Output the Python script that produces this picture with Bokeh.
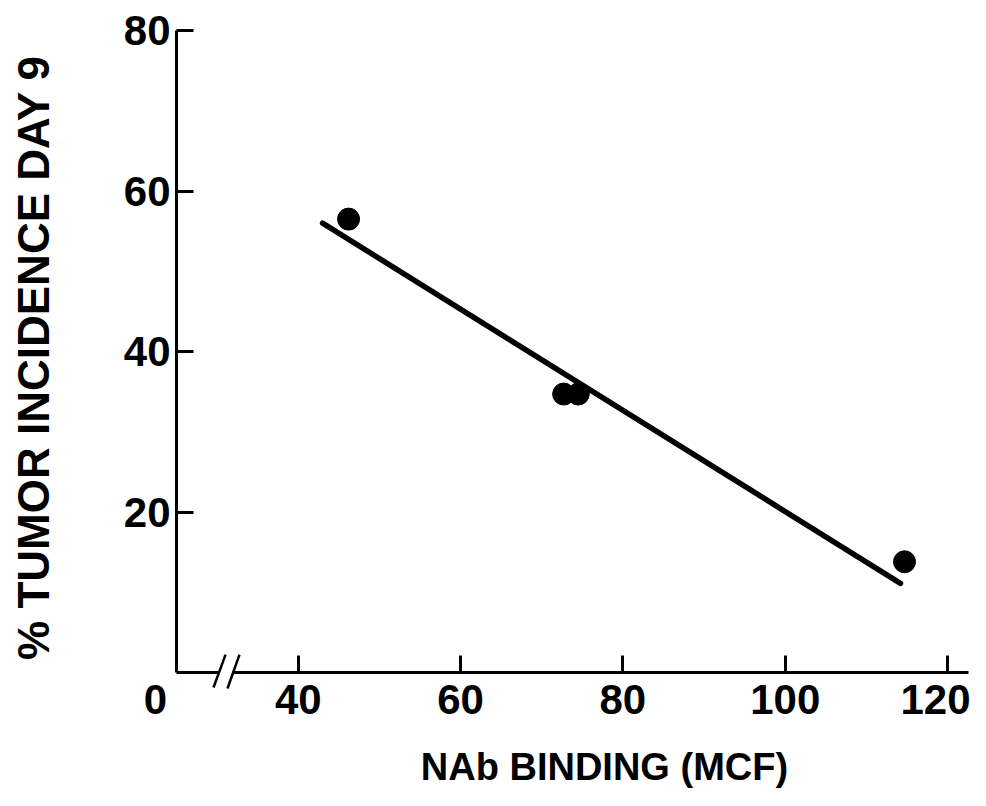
import math
from bokeh.plotting import figure
from bokeh.models import Range1d, Label, Arrow, FixedTicker
from bokeh.embed import file_html
from bokeh.resources import INLINE

# data
nab_binding = [46.2, 72.7, 74.5, 114.7]
tumor_incidence = [56.5, 34.7, 34.7, 13.8]
fit_x = [43.0, 114.2]
fit_y = [56.0, 11.1]
x_ticks = [40, 60, 80, 100, 120]
y_ticks = [20, 40, 60, 80]

FONT = "Liberation Sans"

# the frame spans the whole figure; axes sit at fixed data locations
p = figure(width=970, height=790,
           x_range=Range1d(3.314, 122.83), y_range=Range1d(-14.70, 83.74),
           output_backend="svg", toolbar_location=None,
           min_border_left=0, min_border_right=0,
           min_border_top=0, min_border_bottom=0)
p.outline_line_color = None
p.grid.visible = False
p.background_fill_color = "white"

for ax in (p.xaxis[0], p.yaxis[0]):
    ax.axis_line_width = 3
    ax.axis_line_color = "black"
    ax.major_tick_line_width = 3
    ax.major_tick_line_color = "black"
    ax.major_tick_in = 17
    ax.major_tick_out = 0
    ax.minor_tick_line_color = None
    ax.major_label_text_font = FONT
    ax.major_label_text_font_style = "bold"
    ax.major_label_text_font_size = "42px"
    ax.major_label_text_color = "black"

p.xaxis[0].fixed_location = 0
p.yaxis[0].fixed_location = 25
p.xaxis[0].ticker = FixedTicker(ticks=x_ticks)
p.yaxis[0].ticker = FixedTicker(ticks=y_ticks)
p.xaxis[0].bounds = (32.0, 122.6)
p.yaxis[0].bounds = (0, 80)
p.xaxis[0].major_label_standoff = 12
p.yaxis[0].major_label_standoff = 6

# regression line and points
p.line(fit_x, fit_y, line_width=5.5, line_color="black", line_cap="round")
p.scatter(nab_binding, tumor_incidence, size=22, marker="circle",
          fill_color="black", line_color="black")

# axis break: left piece of x axis and two slashes
p.add_layout(Arrow(end=None, x_start=25, y_start=0, x_end=30.17, y_end=0,
                   line_width=3, line_color="black"))
p.add_layout(Arrow(end=None, x_start=29.56, y_start=-1.87, x_end=31.04, y_end=2.24,
                   line_width=2.5, line_color="black"))
p.add_layout(Arrow(end=None, x_start=31.28, y_start=-1.99, x_end=32.76, y_end=2.24,
                   line_width=2.5, line_color="black"))

# "0" origin label
p.add_layout(Label(x=22.41, y=-1.5, text="0", text_font=FONT, text_font_style="bold",
                   text_font_size="42px", text_align="center", text_baseline="top",
                   text_color="black"))

# axis titles
p.add_layout(Label(x=7.38, y=39.25, text="% TUMOR INCIDENCE DAY 9", text_font=FONT,
                   text_font_style="bold", text_font_size="44px", angle=math.pi / 2,
                   text_align="center", text_baseline="middle", text_color="black"))
p.add_layout(Label(x=77.73, y=-11.71, text="NAb BINDING (MCF)", text_font=FONT,
                   text_font_style="bold", text_font_size="38px",
                   text_align="center", text_baseline="middle", text_color="black"))

open("out.html", "w").write(file_html(p, INLINE))
